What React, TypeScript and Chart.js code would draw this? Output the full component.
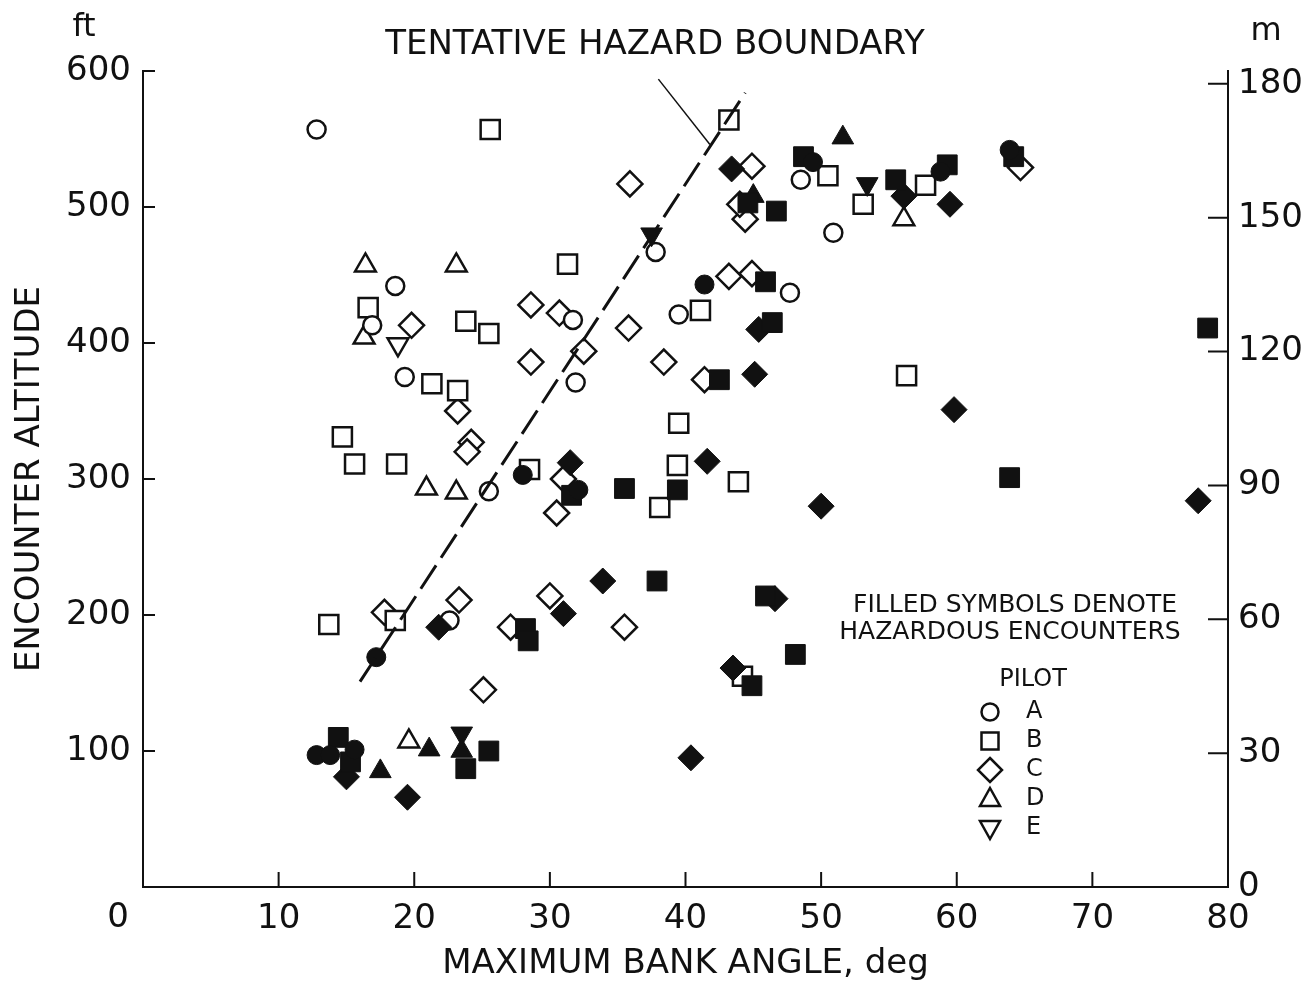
import React, { useEffect, useRef } from "react";
import { Chart, registerables } from "chart.js";

Chart.register(...registerables);

type P = [number, number];

// Axis ticks
const xTicks = [0, 10, 20, 30, 40, 50, 60, 70, 80];
const yTicksFt = [100, 200, 300, 400, 500, 600];
const yTicksM = [0, 30, 60, 90, 120, 150, 180];
const FT_TO_M = 0.3048;

// Pilot A (circle)
const pilotAOpen: P[] = [
  [12.8, 557], [18.6, 442], [16.9, 413], [19.3, 375], [25.5, 291], [22.6, 196],
  [31.7, 417], [31.9, 371], [37.8, 467], [39.5, 421], [48.5, 520], [50.9, 481], [47.7, 437],
];
const pilotAFilled: P[] = [
  [41.4, 443], [28.0, 303], [32.1, 292], [17.2, 169], [12.8, 97], [13.8, 97], [15.6, 101],
  [49.4, 533], [58.8, 526], [63.9, 542],
];
// Pilot B (square)
const pilotBOpen: P[] = [
  [25.6, 557], [16.6, 426], [23.8, 416], [25.5, 407], [43.2, 564], [31.3, 458], [41.1, 424],
  [50.5, 523], [53.1, 502], [57.7, 516], [21.3, 370], [23.2, 365], [14.7, 331], [15.6, 311],
  [18.7, 311], [18.6, 196], [13.7, 193], [28.5, 307], [39.5, 341], [39.4, 310], [43.9, 298],
  [38.1, 279], [56.3, 376], [44.2, 155],
];
const pilotBFilled: P[] = [
  [48.7, 537], [46.7, 497], [45.9, 445], [46.4, 415], [55.5, 520], [59.3, 531], [64.2, 537],
  [78.5, 411], [42.5, 373], [39.4, 292], [35.5, 293], [31.6, 288], [37.9, 225], [28.2, 190],
  [28.4, 181], [45.9, 214], [44.9, 148], [48.1, 171], [63.9, 301], [25.5, 100], [23.8, 87],
  [14.4, 110], [15.3, 92], [44.6, 503],
];
// Pilot C (diamond)
const pilotCOpen: P[] = [
  [35.9, 517], [28.6, 428], [30.7, 422], [35.8, 411], [32.5, 394], [43.2, 449], [28.6, 386],
  [38.4, 386], [44.9, 530], [44.4, 491], [44.0, 502], [44.9, 451], [64.7, 529], [19.8, 413],
  [23.2, 350], [24.2, 327], [23.9, 320], [17.8, 202], [23.3, 211], [27.1, 191], [25.1, 145],
  [41.4, 373], [31.0, 300], [30.5, 275], [30.0, 214], [35.5, 191],
];
const pilotCFilled: P[] = [
  [43.4, 528], [56.1, 508], [59.5, 502], [45.4, 410], [45.1, 377], [59.8, 351], [41.6, 313],
  [31.5, 312], [50.0, 280], [77.8, 284], [33.9, 225], [31.0, 201], [21.8, 191], [46.6, 212],
  [43.5, 161], [40.4, 95], [19.5, 66], [15.0, 81],
];
// Pilot D (triangle up)
const pilotDOpen: P[] = [
  [16.4, 457], [23.1, 457], [16.3, 404], [20.9, 293], [23.1, 290], [56.1, 491], [19.6, 107],
];
const pilotDFilled: P[] = [
  [51.6, 551], [45.0, 508], [21.1, 101], [17.5, 85], [23.5, 100],
];
// Pilot E (triangle down)
const pilotEOpen: P[] = [[18.8, 399]];
const pilotEFilled: P[] = [[37.5, 480], [53.4, 517], [23.5, 113]];

// Tentative hazard boundary and its leader line
const hazardX = [16.0, 44.4];
const hazardY = [151, 584];
const leaderX = [38.0, 41.8];
const leaderY = [594, 546];

const FONT = '"DejaVu Sans", "Liberation Sans", sans-serif';
const INK = "#111";

const toXY = (arr: P[]) => arr.map(([x, y]) => ({ x, y }));

function pointSet(label: string, arr: P[], style: string, filled: boolean, radius: number, rotation = 0) {
  return {
    label,
    data: toXY(arr),
    pointStyle: style,
    pointRotation: rotation,
    pointRadius: radius,
    pointHoverRadius: radius,
    backgroundColor: filled ? INK : "#fff",
    borderColor: INK,
    pointBorderWidth: filled ? 1 : 2.5,
    borderWidth: filled ? 1 : 2.5,
    showLine: false,
    yAxisID: "y",
  };
}

function drawSymbol(ctx: CanvasRenderingContext2D, kind: string, x: number, y: number) {
  ctx.beginPath();
  if (kind === "circle") {
    ctx.arc(x, y, 8.5, 0, Math.PI * 2);
  } else if (kind === "square") {
    ctx.rect(x - 8.5, y - 8.5, 17, 17);
  } else if (kind === "diamond") {
    ctx.moveTo(x, y - 12); ctx.lineTo(x + 12, y); ctx.lineTo(x, y + 12); ctx.lineTo(x - 12, y); ctx.closePath();
  } else if (kind === "up") {
    ctx.moveTo(x, y - 11); ctx.lineTo(x + 10, y + 7); ctx.lineTo(x - 10, y + 7); ctx.closePath();
  } else {
    ctx.moveTo(x, y + 11); ctx.lineTo(x + 10, y - 7); ctx.lineTo(x - 10, y - 7); ctx.closePath();
  }
  ctx.stroke();
}

const decorPlugin = {
  id: "decor",
  afterDraw(chart: any) {
    const ctx: CanvasRenderingContext2D = chart.ctx;
    const { left, right, bottom } = chart.chartArea;
    const xs = chart.scales.x;
    const ys = chart.scales.y;
    const ys2 = chart.scales.y2;
    ctx.save();
    ctx.strokeStyle = INK;
    ctx.lineWidth = 2;
    // inward tick marks
    ctx.beginPath();
    xTicks.forEach((v) => {
      if (v === 0 || v === 80) return;
      const px = xs.getPixelForValue(v);
      ctx.moveTo(px, bottom); ctx.lineTo(px, bottom - 15);
    });
    yTicksFt.forEach((v) => {
      const py = ys.getPixelForValue(v);
      ctx.moveTo(left, py); ctx.lineTo(left + 12, py);
    });
    yTicksM.forEach((v) => {
      if (v === 0) return;
      const py = ys2.getPixelForValue(v);
      ctx.moveTo(right, py); ctx.lineTo(right - 20, py);
    });
    ctx.stroke();

    ctx.fillStyle = INK;
    ctx.textBaseline = "middle";
    // x "0" label, offset left of axis
    ctx.font = `34px ${FONT}`;
    ctx.textAlign = "center";
    ctx.fillText("0", xs.getPixelForValue(0) - 25, 918);
    // title and units
    ctx.fillText("TENTATIVE HAZARD BOUNDARY", 655, 45);
    ctx.font = `32px ${FONT}`;
    ctx.fillText("ft", 84, 28);
    ctx.fillText("m", 1266, 32);

    // note and legend
    ctx.font = `25px ${FONT}`;
    ctx.fillText("FILLED SYMBOLS DENOTE", 1015, 605);
    ctx.fillText("HAZARDOUS ENCOUNTERS", 1010, 632);
    ctx.font = `24px ${FONT}`;
    ctx.fillText("PILOT", 1033, 680);
    const legend: [string, string][] = [["circle", "A"], ["square", "B"], ["diamond", "C"], ["up", "D"], ["down", "E"]];
    ctx.lineWidth = 2.5;
    legend.forEach(([kind, letter], i) => {
      const y = 712 + i * 29;
      drawSymbol(ctx, kind, 990, y);
      ctx.textAlign = "left";
      ctx.fillText(letter, 1026, y);
    });
    ctx.restore();
  },
};

export default function App() {
  const canvasRef = useRef<HTMLCanvasElement | null>(null);

  useEffect(() => {
    const canvas = canvasRef.current;
    if (!canvas) return;
    const openAll = [...pilotAOpen, ...pilotBOpen, ...pilotCOpen, ...pilotDOpen, ...pilotEOpen];
    const chart = new Chart(canvas, {
      type: "scatter",
      data: {
        datasets: [
          {
            label: "hazard boundary",
            data: hazardX.map((x, i) => ({ x, y: hazardY[i] })),
            showLine: true,
            borderColor: INK,
            borderWidth: 3,
            borderDash: [28, 9],
            pointRadius: 0,
            yAxisID: "y",
          } as any,
          {
            label: "leader",
            data: leaderX.map((x, i) => ({ x, y: leaderY[i] })),
            showLine: true,
            borderColor: INK,
            borderWidth: 1.5,
            pointRadius: 0,
            yAxisID: "y",
          } as any,
          pointSet("A filled", pilotAFilled, "circle", true, 9.5),
          pointSet("B filled", pilotBFilled, "rect", true, 14),
          pointSet("C filled", pilotCFilled, "rectRot", true, 13),
          pointSet("D filled", pilotDFilled, "triangle", true, 12.5),
          pointSet("E filled", pilotEFilled, "triangle", true, 12.5, 180),
          pointSet("A", pilotAOpen, "circle", false, 9),
          pointSet("B", pilotBOpen, "rect", false, 13.5),
          pointSet("C", pilotCOpen, "rectRot", false, 12.5),
          pointSet("D", pilotDOpen, "triangle", false, 12),
          pointSet("E", pilotEOpen, "triangle", false, 12, 180),
          {
            label: "centers",
            data: toXY(openAll),
            pointStyle: "circle",
            pointRadius: 1.6,
            backgroundColor: INK,
            borderWidth: 0,
            showLine: false,
            yAxisID: "y",
          } as any,
        ],
      },
      options: {
        animation: false,
        responsive: false,
        maintainAspectRatio: false,
        events: [],
        layout: { padding: { top: 71, left: 0, right: 0, bottom: 0 } },
        plugins: { legend: { display: false }, tooltip: { enabled: false }, title: { display: false } },
        scales: {
          x: {
            type: "linear",
            min: 0,
            max: 80,
            afterBuildTicks: (s: any) => { s.ticks = xTicks.map((v) => ({ value: v })); },
            afterFit: (s: any) => { s.height = 99; },
            ticks: {
              color: INK,
              font: { family: FONT, size: 34 },
              padding: 12,
              maxRotation: 0,
              autoSkip: false,
              callback: (v: any) => (v === 0 ? "" : String(v)),
            },
            grid: { display: true, drawOnChartArea: false, drawTicks: false },
            border: { display: true, color: INK, width: 2 },
            title: {
              display: true,
              text: "MAXIMUM BANK ANGLE, deg",
              color: INK,
              font: { family: FONT, size: 34 },
              padding: { top: 0, bottom: 1 },
            },
          },
          y: {
            type: "linear",
            position: "left",
            min: 0,
            max: 600,
            afterBuildTicks: (s: any) => { s.ticks = yTicksFt.map((v) => ({ value: v })); },
            afterFit: (s: any) => { s.width = 143; },
            ticks: { color: INK, font: { family: FONT, size: 34 }, padding: 12, autoSkip: false },
            grid: { display: true, drawOnChartArea: false, drawTicks: false },
            border: { display: true, color: INK, width: 2 },
            title: {
              display: true,
              text: "ENCOUNTER ALTITUDE",
              color: INK,
              font: { family: FONT, size: 34 },
              padding: { top: 10, bottom: 0 },
            },
          },
          y2: {
            type: "linear",
            position: "right",
            min: 0,
            max: 600 * FT_TO_M,
            afterBuildTicks: (s: any) => { s.ticks = yTicksM.map((v) => ({ value: v })); },
            afterFit: (s: any) => { s.width = 77; },
            ticks: { color: INK, font: { family: FONT, size: 34 }, padding: 10, autoSkip: false },
            grid: { display: true, drawOnChartArea: false, drawTicks: false },
            border: { display: true, color: INK, width: 2 },
          },
        },
      } as any,
      plugins: [decorPlugin],
    });
    return () => chart.destroy();
  }, []);

  return (
    <div style={{ position: "absolute", left: 0, top: 0, width: 1305, height: 986, background: "#fff" }}>
      <canvas ref={canvasRef} width={1305} height={986} style={{ width: 1305, height: 986, display: "block" }} />
    </div>
  );
}
